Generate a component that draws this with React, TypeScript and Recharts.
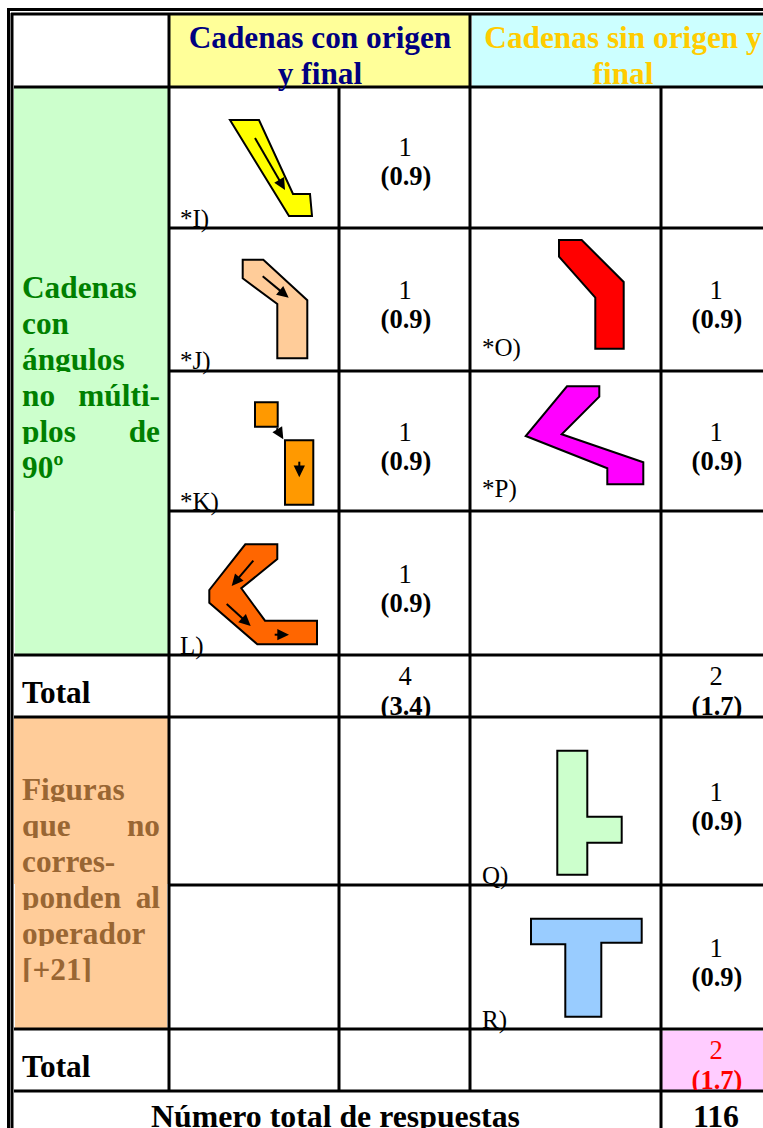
import { ScatterChart, Scatter, XAxis, YAxis, ReferenceArea, ReferenceLine } from "recharts";

const WIDTH = 763;
const HEIGHT = 1128;
const SERIF = "'Liberation Serif', 'Times New Roman', serif";
const TEXT_DROP = 1; // baselines sit a pixel lower than the values

type Pt = { x: number; y: number };
type Txt = Pt & { text: string; anchor?: "start" | "middle" | "end"; clip?: number };

// cell fills: x1, x2, y1, y2, colour
const cellFills: [number, number, number, number, string][] = [
  [170, 469, 15, 86, "#ffff99"],
  [472, 763, 15, 86, "#ccffff"],
  [14, 168, 88, 511, "#ccffcc"],
  [15, 168, 511, 654, "#ccffcc"],
  [14, 168, 718, 884, "#ffcc99"],
  [15, 167, 884, 1028, "#ffcc99"],
  [662, 763, 1031, 1090, "#ffccff"],
];

// table rules: x or y, from, to
const columnRules = [
  [169, 14, 1091],
  [339, 88, 1091],
  [470, 14, 1091],
  [661, 88, 1128],
];
const rowRules = [
  [87, 14, 763],
  [228, 169, 763],
  [371, 169, 763],
  [511, 169, 763],
  [655, 14, 763],
  [717, 14, 763],
  [885, 169, 763],
  [1029, 14, 763],
  [1091, 14, 763],
];

// figures
const figureI: Pt[] = [
  { x: 230, y: 120 }, { x: 259, y: 120 }, { x: 293, y: 194 }, { x: 310, y: 194 }, { x: 312, y: 216 }, { x: 289, y: 216 },
];
const figureJ: Pt[] = [
  { x: 242.7, y: 259.7 }, { x: 263.3, y: 259.7 }, { x: 307.3, y: 300.3 }, { x: 307.3, y: 358.3 },
  { x: 277.3, y: 358.3 }, { x: 277.3, y: 304 }, { x: 242.7, y: 278.3 },
];
const figureKa: Pt[] = [
  { x: 255, y: 402.3 }, { x: 277.7, y: 402.3 }, { x: 277.7, y: 426.7 }, { x: 255, y: 426.7 },
];
const figureKb: Pt[] = [
  { x: 285, y: 440.3 }, { x: 313.3, y: 440.3 }, { x: 313.3, y: 504.7 }, { x: 285, y: 504.7 },
];
const figureL: Pt[] = [
  { x: 245.3, y: 544.3 }, { x: 277.3, y: 544.3 }, { x: 277.3, y: 559 }, { x: 241.3, y: 588.3 }, { x: 265, y: 620.7 },
  { x: 317, y: 620.7 }, { x: 317, y: 644.3 }, { x: 257.3, y: 644.3 }, { x: 209.3, y: 602.7 }, { x: 209.3, y: 590 },
];
const figureO: Pt[] = [
  { x: 559, y: 240 }, { x: 581.7, y: 240 }, { x: 623.7, y: 282 }, { x: 623.7, y: 348.7 },
  { x: 595.3, y: 348.7 }, { x: 595.3, y: 297.7 }, { x: 559, y: 256.7 },
];
const figureP: Pt[] = [
  { x: 567, y: 386.3 }, { x: 599.3, y: 386.3 }, { x: 599.3, y: 396.7 }, { x: 561.7, y: 434.3 }, { x: 643.3, y: 462.3 },
  { x: 643.3, y: 484.3 }, { x: 607.3, y: 484.3 }, { x: 607.3, y: 468.3 }, { x: 525.7, y: 436 },
];
const figureQ: Pt[] = [
  { x: 557.3, y: 750.7 }, { x: 587.3, y: 750.7 }, { x: 587.3, y: 816.7 }, { x: 621.7, y: 816.7 },
  { x: 621.7, y: 842.7 }, { x: 587.3, y: 842.7 }, { x: 587.3, y: 874.7 }, { x: 557.3, y: 874.7 },
];
const figureR: Pt[] = [
  { x: 531, y: 918.7 }, { x: 641.7, y: 918.7 }, { x: 641.7, y: 942.7 }, { x: 601.3, y: 942.7 },
  { x: 601.3, y: 1016.7 }, { x: 565.3, y: 1016.7 }, { x: 565.3, y: 944.3 }, { x: 531, y: 944.3 },
];
const figures: [Pt[], string][] = [
  [figureI, "#ffff00"],
  [figureJ, "#ffcc99"],
  [figureKa, "#ff9900"],
  [figureKb, "#ff9900"],
  [figureL, "#ff6600"],
  [figureO, "#ff0000"],
  [figureP, "#ff00ff"],
  [figureQ, "#ccffcc"],
  [figureR, "#99ccff"],
];

const arrows: Pt[][] = [
  [{ x: 255, y: 138 }, { x: 285, y: 190 }],
  [{ x: 262.7, y: 276.3 }, { x: 288.7, y: 297.7 }],
  [{ x: 276.7, y: 428.3 }, { x: 283.3, y: 439.3 }],
  [{ x: 299.3, y: 461.7 }, { x: 299.3, y: 477.3 }],
  [{ x: 253.3, y: 560.7 }, { x: 231.7, y: 586 }],
  [{ x: 226.7, y: 604 }, { x: 250.7, y: 626 }],
  [{ x: 274.7, y: 634.7 }, { x: 289, y: 634.7 }],
];

// texts
const headerNavy: Txt[] = [
  { x: 320, y: 47, text: "Cadenas con origen" },
  { x: 320, y: 83, text: "y final" },
];
const headerGold: Txt[] = [
  { x: 623, y: 47, text: "Cadenas sin origen y" },
  { x: 623, y: 83, text: "final" },
];
const greenLabel: Txt[] = [
  { x: 22, y: 297, text: "Cadenas" },
  { x: 22, y: 333, text: "con" },
  { x: 22, y: 369, text: "ángulos", clip: 2 },
  { x: 22, y: 405, text: "no" },
  { x: 160, y: 405, text: "múlti-", anchor: "end" },
  { x: 22, y: 441, text: "plos", clip: 2 },
  { x: 160, y: 441, text: "de", anchor: "end" },
  { x: 22, y: 477, text: "90º" },
];
const orangeLabel: Txt[] = [
  { x: 22, y: 799, text: "Figuras", clip: 2 },
  { x: 22, y: 835, text: "que", clip: 2 },
  { x: 160, y: 835, text: "no", anchor: "end" },
  { x: 22, y: 871, text: "corres-" },
  { x: 22, y: 907, text: "ponden", clip: 2 },
  { x: 160, y: 907, text: "al", anchor: "end" },
  { x: 22, y: 943, text: "operador", clip: 2 },
  { x: 22, y: 979, text: "[+21]", clip: 2 },
];
const totalLabels: Txt[] = [
  { x: 22, y: 702, text: "Total" },
  { x: 22, y: 1076, text: "Total" },
];
const bottomLabels: Txt[] = [
  { x: 335.5, y: 1126, text: "Número total de respuestas" },
  { x: 716, y: 1126, text: "116" },
];
const countLabels: Txt[] = [
  { x: 405, y: 155, text: "1" },
  { x: 405, y: 298, text: "1" },
  { x: 405, y: 440, text: "1" },
  { x: 405, y: 582, text: "1" },
  { x: 405, y: 684, text: "4" },
  { x: 716, y: 298, text: "1" },
  { x: 716, y: 440, text: "1" },
  { x: 716, y: 684, text: "2" },
  { x: 716, y: 800, text: "1" },
  { x: 716, y: 956, text: "1" },
];
const percentLabels: Txt[] = [
  { x: 406, y: 184, text: "(0.9)" },
  { x: 406, y: 327, text: "(0.9)" },
  { x: 406, y: 469, text: "(0.9)" },
  { x: 406, y: 611, text: "(0.9)" },
  { x: 406, y: 714, text: "(3.4)", clip: 1 },
  { x: 717, y: 327, text: "(0.9)" },
  { x: 717, y: 469, text: "(0.9)" },
  { x: 717, y: 714, text: "(1.7)", clip: 1 },
  { x: 717, y: 829, text: "(0.9)" },
  { x: 717, y: 985, text: "(0.9)" },
];
const redCount: Txt[] = [{ x: 716, y: 1058, text: "2" }];
const redPercent: Txt[] = [{ x: 717, y: 1088, text: "(1.7)", clip: 1 }];
const figureLabels: Txt[] = [
  { x: 180, y: 226, text: "*I)" },
  { x: 180, y: 368, text: "*J)" },
  { x: 180, y: 509, text: "*K)" },
  { x: 180, y: 653, text: "L)" },
  { x: 482, y: 355, text: "*O)" },
  { x: 482, y: 496, text: "*P)" },
  { x: 482, y: 883, text: "Q)" },
  { x: 482, y: 1027, text: "R)" },
];

let clipCount = 0;

const textShape = (size: number, color: string, bold: boolean, anchor: "start" | "middle") => (props: any) => {
  const { cx, cy, payload } = props;
  const id = `cut-${clipCount++}`;
  const cut = payload.clip;
  const base = cy + TEXT_DROP;
  return (
    <g>
      {cut !== undefined && (
        <clipPath id={id}>
          <rect x={cx - 200} y={base - 60} width={400} height={60 + cut} />
        </clipPath>
      )}
      <text
        x={cx}
        y={base}
        fontFamily={SERIF}
        fontSize={size}
        fontWeight={bold ? "bold" : "normal"}
        fill={color}
        textAnchor={payload.anchor ?? anchor}
        clipPath={cut !== undefined ? `url(#${id})` : undefined}
      >
        {payload.text}
      </text>
    </g>
  );
};

// the Scatter's joint line hands over the scaled points, so a figure can be filled
const outline = (fill: string) => (props: any) => (
  <polygon
    points={props.points.map((p: Pt) => `${p.x},${p.y}`).join(" ")}
    fill={fill}
    stroke="#000000"
    strokeWidth={2}
    strokeLinejoin="miter"
  />
);

const arrowLine = (props: any) => {
  const [a, b] = props.points as Pt[];
  const angle = Math.atan2(b.y - a.y, b.x - a.x);
  const len = 13;
  const spread = 0.45;
  const head = [angle - spread, angle + spread]
    .map((t) => `${b.x - len * Math.cos(t)},${b.y - len * Math.sin(t)}`)
    .join(" ");
  const neck = { x: b.x - 8 * Math.cos(angle), y: b.y - 8 * Math.sin(angle) };
  return (
    <g>
      <line x1={a.x} y1={a.y} x2={neck.x} y2={neck.y} stroke="#000000" strokeWidth={2} />
      <polygon points={`${b.x},${b.y} ${head}`} fill="#000000" />
    </g>
  );
};

const noDot = () => <g />;

const textGroups: [Txt[], number, string, boolean, "start" | "middle"][] = [
  [headerNavy, 31.3, "#000080", true, "middle"],
  [headerGold, 31.3, "#ffcc00", true, "middle"],
  [greenLabel, 31.3, "#008000", true, "start"],
  [orangeLabel, 31.3, "#996633", true, "start"],
  [totalLabels, 31.3, "#000000", true, "start"],
  [bottomLabels, 31.8, "#000000", true, "middle"],
  [countLabels, 26.5, "#000000", false, "middle"],
  [percentLabels, 26.5, "#000000", true, "middle"],
  [redCount, 26.5, "#ff0000", false, "middle"],
  [redPercent, 26.5, "#ff0000", true, "middle"],
  [figureLabels, 25, "#000000", false, "start"],
];

export default function App() {
  clipCount = 0;
  return (
    <div style={{ position: "absolute", left: 0, top: 0, width: WIDTH, height: HEIGHT, overflow: "hidden", background: "#fff" }}>
      <ScatterChart width={WIDTH} height={HEIGHT} margin={{ top: 0, right: 0, bottom: 0, left: 0 }}>
        <XAxis type="number" dataKey="x" domain={[0, WIDTH]} hide />
        <YAxis type="number" dataKey="y" domain={[0, HEIGHT]} reversed hide />

        {cellFills.map(([x1, x2, y1, y2, fill], i) => (
          <ReferenceArea key={`fill-${i}`} x1={x1} x2={x2} y1={y1} y2={y2} fill={fill} fillOpacity={1} stroke="none" />
        ))}

        {figures.map(([points, fill], i) => (
          <Scatter key={`figure-${i}`} data={points} line={outline(fill)} lineType="joint" shape={noDot} isAnimationActive={false} />
        ))}
        {arrows.map((points, i) => (
          <Scatter key={`arrow-${i}`} data={points} line={arrowLine} lineType="joint" shape={noDot} isAnimationActive={false} />
        ))}

        {textGroups.map(([data, size, color, bold, anchor], i) => (
          <Scatter key={`text-${i}`} data={data} shape={textShape(size, color, bold, anchor)} isAnimationActive={false} />
        ))}

        {columnRules.map(([x, from, to], i) => (
          <ReferenceLine key={`col-${i}`} segment={[{ x, y: from }, { x, y: to }]} stroke="#000000" strokeWidth={3} />
        ))}
        {rowRules.map(([y, from, to], i) => (
          <ReferenceLine key={`row-${i}`} segment={[{ x: from, y }, { x: to, y }]} stroke="#000000" strokeWidth={3} />
        ))}

        {/* double frame */}
        <ReferenceLine segment={[{ x: 8.5, y: 8 }, { x: 8.5, y: HEIGHT }]} stroke="#000000" strokeWidth={3} />
        <ReferenceLine segment={[{ x: 12, y: 13 }, { x: 12, y: HEIGHT }]} stroke="#000000" strokeWidth={3} />
        <ReferenceLine segment={[{ x: 7, y: 9.5 }, { x: WIDTH, y: 9.5 }]} stroke="#000000" strokeWidth={3} />
        <ReferenceLine segment={[{ x: 11, y: 14 }, { x: WIDTH, y: 14 }]} stroke="#000000" strokeWidth={3} />
      </ScatterChart>
    </div>
  );
}
